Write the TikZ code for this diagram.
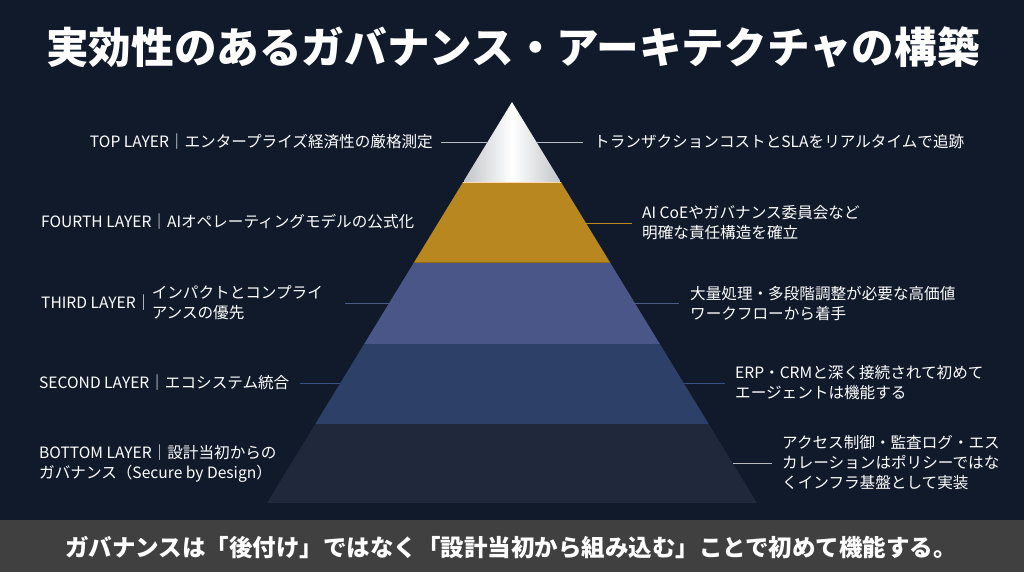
\documentclass[tikz,border=0pt]{standalone}
\usepackage{fontspec}
\setmainfont{Noto Sans CJK JP}
\definecolor{bgc}{HTML}{101A2B}
\definecolor{bannerc}{HTML}{404040}
\definecolor{goldc}{HTML}{B8871F}
\definecolor{thirdc}{HTML}{4A5688}
\definecolor{secondc}{HTML}{2C4068}
\definecolor{bottomc}{HTML}{20283B}
\definecolor{silverc}{HTML}{C2C5C9}
\definecolor{lgray}{HTML}{B8BCC2}
\definecolor{bluel}{HTML}{4A5A85}
\definecolor{bluel2}{HTML}{3A5282}
\tikzset{
  lbl/.style={text=white, inner sep=0pt, font=\fontsize{15.6}{20}\selectfont, align=left},
  leader/.style={line width=0.9pt},
}
\begin{document}
\begin{tikzpicture}[x=1pt,y=-1pt]
\fill[bgc] (0,0) rectangle (1024,572);
\useasboundingbox (0,0) rectangle (1024,572);
\fill[bannerc] (0,520) rectangle (1024,572);
% title
\node[text=white, inner sep=0pt, font=\fontsize{42.6}{46}\selectfont\bfseries] (title) at (513,47) {実効性のあるガバナンス・アーキテクチャの構築};
% banner
\node[text=white, inner sep=0pt, font=\fontsize{23.5}{26}\selectfont\bfseries] (banner) at (511,548) {ガバナンスは「後付け」ではなく「設計当初から組み込む」ことで初めて機能する。};
% pyramid
\coordinate (apex) at (512,102);
\coordinate (bl) at (267,503);
\coordinate (br) at (757,503);
\begin{scope}
\clip (apex) -- (br) -- (bl) -- cycle;
\shade[left color=silverc, right color=silverc, middle color=white] (464,100) rectangle (560,182);
\fill[goldc] (250,182) rectangle (780,263);
\fill[thirdc] (250,263) rectangle (780,343.5);
\fill[secondc] (250,343.5) rectangle (780,423.5);
\fill[bottomc] (250,423.5) rectangle (780,503);
\draw[line width=1pt, color=orange!30!white] (250,182) -- (780,182);
\draw[line width=1.2pt, color=goldc!80!black] (250,262.5) -- (780,262.5);
\end{scope}
% edge coordinates
\coordinate (e1l) at (487,142);
\coordinate (e1r) at (537,142);
\coordinate (e2r) at (586,223);
\coordinate (e3l) at (389,303);
\coordinate (e3r) at (635,303);
\coordinate (e4l) at (340,383);
\coordinate (e4r) at (684,383);
\coordinate (e5r) at (733,463);
% leader line free ends
\coordinate (f1l) at (441,142);
\coordinate (f1r) at (583,142);
\coordinate (f2r) at (632,223);
\coordinate (f3l) at (345,303);
\coordinate (f3r) at (679,303);
\coordinate (f4l) at (300,383);
\coordinate (f4r) at (725,383);
\coordinate (f5r) at (772,463);
\draw[leader, lgray] (f1l) -- (e1l);
\draw[leader, lgray] (e1r) -- (f1r);
\draw[leader, goldc] (e2r) -- (f2r);
\draw[leader, bluel] (f3l) -- (e3l);
\draw[leader, bluel] (e3r) -- (f3r);
\draw[leader, bluel2] (f4l) -- (e4l);
\draw[leader, bluel2] (e4r) -- (f4r);
\draw[leader, lgray] (e5r) -- (f5r);
% left labels
\node[lbl, anchor=east] (t1l) at (433,142) {TOP LAYER｜エンタープライズ経済性の厳格測定};
\node[lbl, anchor=west] (t2l) at (41,222) {FOURTH LAYER｜AIオペレーティングモデルの公式化};
\node[lbl, anchor=west] (t3l) at (41,303) {THIRD LAYER｜};
\node[lbl, anchor=west] (t3l2) at (t3l.east) {インパクトとコンプライ\\アンスの優先};
\node[lbl, anchor=west] (t4l) at (39,383) {SECOND LAYER｜エコシステム統合};
\node[lbl, anchor=west] (t5l) at (39,464) {BOTTOM LAYER｜設計当初からの\\ガバナンス（Secure by Design）};
% right labels
\node[lbl, anchor=west] (t1r) at (594,142) {トランザクションコストとSLAをリアルタイムで追跡};
\node[lbl, anchor=west] (t2r) at (642,223) {AI CoEやガバナンス委員会など\\明確な責任構造を確立};
\node[lbl, anchor=west] (t3r) at (690,304) {大量処理・多段階調整が必要な高価値\\ワークフローから着手};
\node[lbl, anchor=west] (t4r) at (735,383) {ERP・CRMと深く接続されて初めて\\エージェントは機能する};
\node[lbl, anchor=west] (t5r) at (782,463) {アクセス制御・監査ログ・エス\\カレーションはポリシーではな\\くインフラ基盤として実装};
\end{tikzpicture}
\end{document}
